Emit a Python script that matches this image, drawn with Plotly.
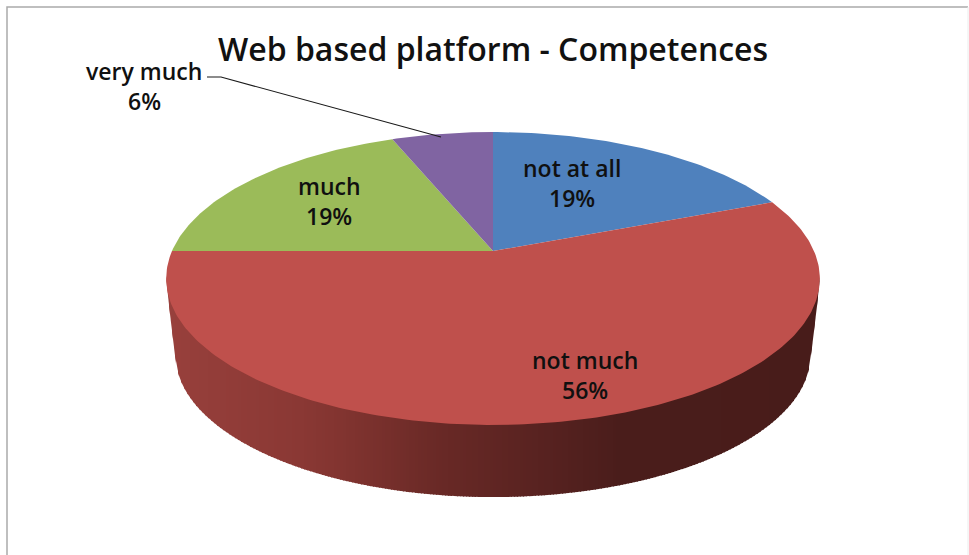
import math
import numpy as np
import plotly.graph_objects as go

TITLE = "Web based platform - Competences"
categories = ["not at all", "not much", "much", "very much"]
values = [19, 56, 19, 6]
colors = ["#4F81BD", "#BF504C", "#9BBB59", "#8064A2"]
wall_stops = [(166, (152, 64, 60)), (300, (138, 56, 52)), (340, (130, 52, 48)), (440, (105, 41, 38)),
              (530, (90, 35, 33)), (620, (74, 29, 27)), (820, (72, 28, 26))]

CX, CY = 493, 251
A, B, C = 321, 141.3, 0.1877
BOTTOM_SCALE, BOTTOM_SHIFT = 0.972, 77


def rim(theta, bottom=False):
    """theta: radians clockwise from 12 o'clock on the disk; perspective projection."""
    u, v = math.sin(theta), math.cos(theta)
    d = 1 + C * v
    x, y = A * u / d, -B * v / d
    if bottom:
        return CX + BOTTOM_SCALE * x, CY + BOTTOM_SCALE * y + BOTTOM_SHIFT
    return CX + x, CY + y


def wall_color(x):
    for (x0, c0), (x1, c1) in zip(wall_stops, wall_stops[1:]):
        if x <= x1:
            f = max(0, (x - x0) / (x1 - x0))
            return "rgb(%d,%d,%d)" % tuple(round(a + (b - a) * f) for a, b in zip(c0, c1))
    return "rgb(%d,%d,%d)" % wall_stops[-1][1]


fig = go.Figure()


def poly(xs, ys, color, width=0.0):
    fig.add_trace(go.Scatter(x=xs, y=ys, mode="lines", fill="toself", fillcolor=color,
                             line=dict(color=color, width=width), hoverinfo="skip",
                             showlegend=False))


def lower_envelope(points):
    """Lower screen edge (largest y) of the convex hull of points, as x/y arrays."""
    pts = sorted(points)
    hull = []
    for p in pts:
        while len(hull) >= 2:
            (x1, y1), (x2, y2) = hull[-2], hull[-1]
            if (x2 - x1) * (p[1] - y1) - (y2 - y1) * (p[0] - x1) >= 0:
                hull.pop()
            else:
                break
        hull.append(p)
    return np.array([h[0] for h in hull]), np.array([h[1] for h in hull])


# side wall: vertical strips between the front rim of the top face and the silhouette
angles = [2 * math.pi * k / 720 for k in range(720)]
top_pts = [rim(t) for t in angles]
bot_pts = [rim(t, True) for t in angles]
hx, hy = lower_envelope(top_pts + bot_pts)
tx, ty = lower_envelope(top_pts)
STEP = 3
xs = np.arange(math.floor(tx[0]), math.ceil(tx[-1]), STEP)
for x in xs:
    x2 = min(x + STEP + 1, tx[-1])
    x1 = max(x, tx[0])
    sx = [x1, x2, x2, x1]
    sy = [float(np.interp(x1, tx, ty)) - 3, float(np.interp(x2, tx, ty)) - 3,
          float(np.interp(x2, hx, hy)), float(np.interp(x1, hx, hy))]
    poly(sx, sy, wall_color(x + STEP / 2))

# top face: one polygon per category, swept from its share of the total
total = sum(values)
start = 0.0
for val, col in zip(values, colors):
    sweep = 2 * math.pi * val / total
    n = max(4, int(val * 4))
    pts = [(CX, CY)] + [rim(start + sweep * k / n) for k in range(n + 1)]
    poly([q[0] for q in pts], [q[1] for q in pts], col)
    start += sweep

# leader line
fig.add_trace(go.Scatter(x=[207, 221, 441], y=[77, 77, 137], mode="lines",
                         line=dict(color="#1a1a1a", width=1.2), hoverinfo="skip",
                         showlegend=False))

label_font = dict(family="Open Sans, sans-serif", size=23, color="#101010", weight=600)
label_pos = [(572, 183), (585, 375), (329, 201), (144, 86)]
for cat, val, (x, y) in zip(categories, values, label_pos):
    fig.add_annotation(x=x, y=y - 15, text=cat, showarrow=False, font=label_font,
                       xanchor="center", yanchor="middle")
    fig.add_annotation(x=x, y=y + 15, text=f"{val}%", showarrow=False, font=label_font,
                       xanchor="center", yanchor="middle")

fig.add_annotation(x=493, y=48, text=TITLE, showarrow=False, xanchor="center", yanchor="middle",
                   font=dict(family="Open Sans, sans-serif", size=32, color="#111111", weight=600))

# outer chart frame
fig.add_shape(type="path", path="M 7 556 L 7 7 L 968 7",
              line=dict(color="#ababab", width=1.5), layer="below")
fig.add_shape(type="line", x0=968, y0=7, x1=968, y1=556,
              line=dict(color="#ececec", width=1), layer="below")

fig.update_layout(width=969, height=555, margin=dict(l=0, r=0, t=0, b=0),
                  paper_bgcolor="white", plot_bgcolor="white", showlegend=False,
                  xaxis=dict(range=[0, 969], visible=False, fixedrange=True),
                  yaxis=dict(range=[555, 0], visible=False, fixedrange=True))
fig.write_html("out.html", config={"displayModeBar": False},
               post_script="document.body.style.margin='0';document.body.style.overflow='hidden';")
